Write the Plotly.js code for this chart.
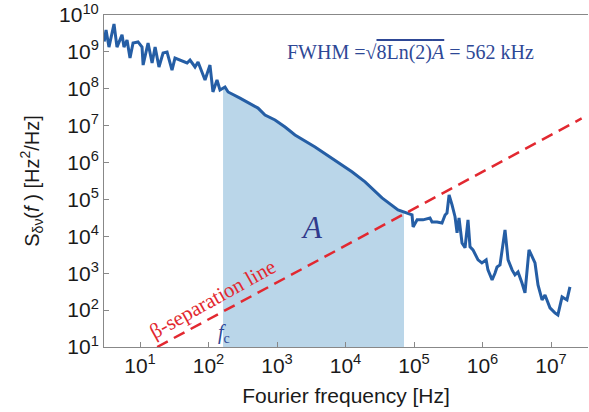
<!DOCTYPE html>
<html>
<head>
<meta charset="utf-8">
<script src="https://cdn.plot.ly/plotly-3.0.1.min.js"></script>
<style>html,body{margin:0;padding:0;background:#fff;}#chart{width:589px;height:412px;}</style>
</head>
<body>
<div id="chart"></div>
<script>
// Frequency noise PSD
const freqHz = [3.0, 3.19, 3.52, 4.17, 4.61, 5.46, 5.83, 6.46, 7.14, 7.91, 9.35, 10.7, 11.1, 13.1, 15.0, 16.6, 18.9, 21.7, 24.8, 29.3, 32.4, 38.4, 48.6, 53.7, 63.5, 70.3, 80.4, 88.9, 105, 116, 133, 147, 174, 193, 288, 528, 668, 935, 1310, 1830, 3590, 7780, 12400, 19300, 34100, 58400, 79000, 93500, 97000, 111000, 135000, 171000, 183000, 217000, 256000, 284000, 303000, 325000, 359000, 397000, 425000, 454000, 502000, 556000, 614000, 657000, 726000, 860000, 980000, 1130000, 1200000, 1380000, 1520000, 1630000, 1800000, 2130000, 2360000, 2700000, 2980000, 3300000, 3770000, 4170000, 4770000, 5280000, 5840000, 6460000, 7400000, 8170000, 9660000, 11400000, 12600000, 14500000, 17100000, 18900000];
const psd = [1.9e9, 3.9e9, 1.35e9, 5.7e9, 1.35e9, 2.9e9, 1.35e9, 2.1e9, 6.8e8, 1.74e9, 1.86e9, 1.35e9, 4.4e8, 1.74e9, 5.0e8, 1.35e9, 3.9e8, 9.3e8, 9.9e8, 3.2e8, 6.8e8, 6.0e8, 5.0e8, 6.0e8, 3.9e8, 5.3e8, 2.85e8, 1.73e8, 4.4e8, 8.2e7, 1.73e8, 9.3e7, 1.12e8, 8.2e7, 5.6e7, 3.0e7, 1.95e7, 1.43e7, 9.2e6, 5.6e6, 2.65e6, 1.04e6, 5.6e5, 3.0e5, 1.1e5, 5.2e4, 4.3e4, 3.8e4, 1.8e4, 2.8e4, 2.8e4, 3.15e4, 2.45e4, 2.45e4, 2.3e4, 3.8e4, 4.3e4, 1.32e5, 7.1e4, 3.4e4, 1.24e4, 3.15e4, 6.6e3, 4.9e3, 2.8e4, 5.2e3, 4.3e3, 2.3e3, 1.9e3, 2.3e3, 1.23e3, 660, 1.0e3, 1.48e3, 1.68e3, 1.49e4, 2.3e3, 1.23e3, 900, 1.08e3, 545, 293, 4.3e3, 2.8e3, 1.9e3, 480, 189, 258, 115, 84, 74, 228, 189, 425];

// beta-separation line end points
const betaFreq = [17.8, 2.8e7];
const betaPsd = [10, 1.57e7];

// integration limits of the shaded area A
const fLow = 163;
const fHigh = 71400;

const xTickVals = [10, 100, 1e3, 1e4, 1e5, 1e6, 1e7];
const xTickText = ['10<sup>1</sup>', '10<sup>2</sup>', '10<sup>3</sup>', '10<sup>4</sup>', '10<sup>5</sup>', '10<sup>6</sup>', '10<sup>7</sup>'];
const yTickVals = [10, 100, 1e3, 1e4, 1e5, 1e6, 1e7, 1e8, 1e9, 1e10];
const yTickText = ['10<sup>1</sup>', '10<sup>2</sup>', '10<sup>3</sup>', '10<sup>4</sup>', '10<sup>5</sup>', '10<sup>6</sup>', '10<sup>7</sup>', '10<sup>8</sup>', '10<sup>9</sup>', '10<sup>10</sup>'];

function interpLog(f) {
  for (let i = 0; i < freqHz.length - 1; i++) {
    if (f >= freqHz[i] && f <= freqHz[i + 1]) {
      const t = (Math.log10(f) - Math.log10(freqHz[i])) / (Math.log10(freqHz[i + 1]) - Math.log10(freqHz[i]));
      return Math.pow(10, Math.log10(psd[i]) + t * (Math.log10(psd[i + 1]) - Math.log10(psd[i])));
    }
  }
  return psd[psd.length - 1];
}

const shadeX = [fLow], shadeY = [interpLog(fLow)];
for (let i = 0; i < freqHz.length; i++) {
  if (freqHz[i] > fLow && freqHz[i] < fHigh) { shadeX.push(freqHz[i]); shadeY.push(psd[i]); }
}
shadeX.push(fHigh, fHigh, fLow, fLow);
shadeY.push(interpLog(fHigh), 1, 1, interpLog(fLow));

const traces = [
  {x: shadeX, y: shadeY, type: 'scatter', mode: 'lines', fill: 'toself',
   fillcolor: 'rgb(186,214,233)', line: {width: 0, color: 'rgba(0,0,0,0)'}, hoverinfo: 'skip'},
  {x: freqHz, y: psd, type: 'scatter', mode: 'lines',
   line: {color: 'rgb(37,94,165)', width: 3}},
  {x: betaFreq, y: betaPsd, type: 'scatter', mode: 'lines',
   line: {color: 'rgb(226,40,48)', width: 2.5, dash: '12px,7px'}}
];

const sans = 'Liberation Sans, Arial, sans-serif';
const serif = 'Liberation Serif, Times New Roman, serif';

const layout = {
  width: 589, height: 412,
  margin: {l: 104, r: 1, t: 15, b: 65},
  paper_bgcolor: '#fff', plot_bgcolor: '#fff',
  showlegend: false,
  xaxis: {
    type: 'log', range: [0.474, 7.54], tickvals: xTickVals, ticktext: xTickText,
    ticks: 'inside', ticklen: 5, tickcolor: '#888', showgrid: false, zeroline: false,
    showline: true, linecolor: '#888', linewidth: 1, mirror: true,
    tickfont: {family: sans, size: 21, color: '#1a1a1a'},
    title: {text: 'Fourier frequency [Hz]', font: {family: sans, size: 21, color: '#1a1a1a'}, standoff: 12}
  },
  yaxis: {
    type: 'log', range: [1, 10], tickvals: yTickVals, ticktext: yTickText,
    ticks: 'inside', ticklen: 5, tickcolor: '#888', showgrid: false, zeroline: false,
    showline: true, linecolor: '#888', linewidth: 1,
    tickfont: {family: sans, size: 21, color: '#1a1a1a'},
    title: {text: 'S<sub>δν</sub>(<i>f</i> ) [Hz<sup>2</sup>/Hz]', font: {family: sans, size: 20, color: '#1a1a1a'}, standoff: 14}
  },
  annotations: [
    {xref: 'paper', yref: 'paper', x: 0.634, y: 0.886, xanchor: 'center', yanchor: 'middle', showarrow: false,
     text: "FWHM =√<span style='text-decoration:overline'>8Ln(2)<i>A</i></span> = 562 kHz",
     font: {family: serif, size: 20, color: 'rgb(46,72,150)'}},
    {xref: 'paper', yref: 'paper', x: 0.43, y: 0.361, xanchor: 'center', yanchor: 'middle', showarrow: false,
     text: '<i>A</i>', font: {family: serif, size: 31, color: 'rgb(48,58,140)'}},
    {xref: 'paper', yref: 'paper', x: 0.224, y: 0.146, xanchor: 'center', yanchor: 'middle', showarrow: false, textangle: -29,
     text: 'β-separation line', font: {family: serif, size: 21, color: 'rgb(226,40,48)'}},
    {xref: 'paper', yref: 'paper', x: 0.248, y: 0.042, xanchor: 'center', yanchor: 'middle', showarrow: false,
     text: '<i>f</i><sub>c</sub>', font: {family: serif, size: 20, color: 'rgb(46,72,150)'}}
  ]
};

Plotly.newPlot('chart', traces, layout, {staticPlot: true});
</script>
</body>
</html>
